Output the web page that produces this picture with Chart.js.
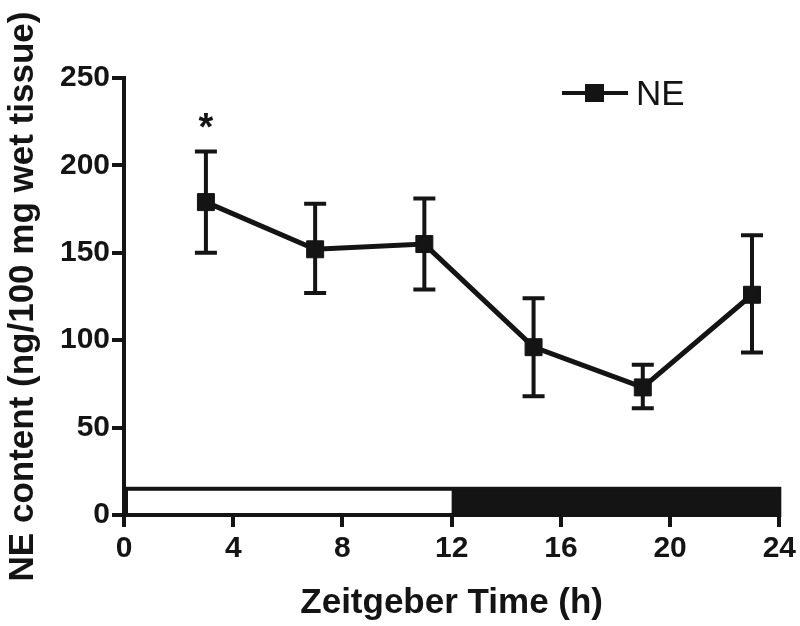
<!DOCTYPE html>
<html>
<head>
<meta charset="utf-8">
<script src="https://cdn.jsdelivr.net/npm/chart.js@4"></script>
<style>
  html, body { margin: 0; padding: 0; background: #fff; }
  #wrap { width: 800px; height: 626px; }
</style>
</head>
<body>
<div id="wrap"><canvas id="neChart" width="800" height="626"></canvas></div>
<script>
// Zeitgeber time points (h) and NE content
const hours = [3, 7, 11, 15, 19, 23];
const neMean = [179, 152, 155, 96, 73, 126];
const neUpper = [208, 178, 181, 124, 86, 160];
const neLower = [150, 127, 129, 68, 61, 93];
const xTicks = [0, 4, 8, 12, 16, 20, 24];
const yTicks = [0, 50, 100, 150, 200, 250];
// light/dark bar: [start, end] and top value
const lightPhase = [0, 12];
const darkPhase = [12, 24];
const barTop = 15;
const starAt = [3, 226];

const ink = '#141414';
const fontFamily = 'Arial, "Liberation Sans", sans-serif';

// Error bars, light/dark bar, significance star and legend
const extras = {
    id: 'extras',
    beforeDatasetsDraw(chart) {
        const c = chart.ctx, x = chart.scales.x, y = chart.scales.y;
        const y0 = y.getPixelForValue(0), yt = y.getPixelForValue(barTop);
        c.save();
        c.fillStyle = ink;
        c.fillRect(x.getPixelForValue(darkPhase[0]), yt, x.getPixelForValue(darkPhase[1]) - x.getPixelForValue(darkPhase[0]), y0 - yt);
        c.strokeStyle = ink;
        c.lineWidth = 4;
        c.strokeRect(x.getPixelForValue(lightPhase[0]) + 2, yt, x.getPixelForValue(darkPhase[1]) - x.getPixelForValue(lightPhase[0]) - 2, y0 - yt);
        // error bars
        hours.forEach((h, i) => {
            const px = x.getPixelForValue(h);
            const top = y.getPixelForValue(neUpper[i]);
            const bot = y.getPixelForValue(neLower[i]);
            c.beginPath();
            c.moveTo(px, top); c.lineTo(px, bot);
            c.moveTo(px - 11, top); c.lineTo(px + 11, top);
            c.moveTo(px - 11, bot); c.lineTo(px + 11, bot);
            c.stroke();
        });
        c.fillStyle = ink;
        c.font = 'bold 38px ' + fontFamily;
        c.textAlign = 'center';
        c.textBaseline = 'middle';
        c.fillText('*', x.getPixelForValue(starAt[0]), y.getPixelForValue(starAt[1]) + 10);
        c.restore();
    },
    afterDraw(chart) {
        // legend: line with square marker, then label
        const c = chart.ctx;
        const lx = 562, ly = 93;
        c.save();
        c.strokeStyle = ink;
        c.lineWidth = 4;
        c.beginPath();
        c.moveTo(lx, ly); c.lineTo(lx + 66, ly);
        c.stroke();
        c.fillStyle = ink;
        c.fillRect(lx + 23, ly - 9, 19, 18);
        c.font = '35px ' + fontFamily;
        c.textAlign = 'left';
        c.textBaseline = 'middle';
        c.fillText(chart.data.datasets[0].label, lx + 74, ly + 2);
        c.restore();
    }
};

new Chart(document.getElementById('neChart'), {
    type: 'line',
    data: {
        datasets: [{
            label: 'NE',
            data: hours.map((h, i) => ({ x: h, y: neMean[i] })),
            borderColor: ink,
            backgroundColor: ink,
            borderWidth: 5,
            pointStyle: 'rect',
            pointRadius: 12,
            pointHoverRadius: 12,
            pointBorderWidth: 1,
            pointBackgroundColor: ink,
            pointBorderColor: ink,
            tension: 0
        }]
    },
    plugins: [extras],
    options: {
        responsive: false,
        animation: false,
        layout: { padding: { top: 78, right: 19, left: 2, bottom: 0 } },
        plugins: {
            tooltip: { enabled: false },
            legend: { display: false }
        },
        scales: {
            x: {
                type: 'linear',
                min: 0, max: 24,
                afterBuildTicks(axis) { axis.ticks = xTicks.map(v => ({ value: v })); },
                afterFit(axis) { axis.height = 111; },
                grid: { drawOnChartArea: false, drawTicks: true, tickLength: 12, color: ink, lineWidth: 4 },
                border: { display: true, color: ink, width: 4 },
                ticks: { color: ink, font: { size: 30, weight: 'bold', family: fontFamily }, padding: 4, maxRotation: 0 },
                title: { display: true, text: 'Zeitgeber Time (h)', color: ink, font: { size: 35, weight: 'bold', family: fontFamily }, padding: { top: 0, bottom: 2 } }
            },
            y: {
                min: 0, max: 250,
                afterBuildTicks(axis) { axis.ticks = yTicks.map(v => ({ value: v })); },
                afterFit(axis) { axis.width = 122; },
                grid: { drawOnChartArea: false, drawTicks: true, tickLength: 12, color: ink, lineWidth: 4 },
                border: { display: true, color: ink, width: 4 },
                ticks: { color: ink, font: { size: 30, weight: 'bold', family: fontFamily }, padding: 2 },
                title: { display: true, text: 'NE content (ng/100 mg wet tissue)', color: ink, font: { size: 35, weight: 'bold', family: fontFamily }, padding: { top: 0, bottom: 2 } }
            }
        }
    }
});
</script>
</body>
</html>
